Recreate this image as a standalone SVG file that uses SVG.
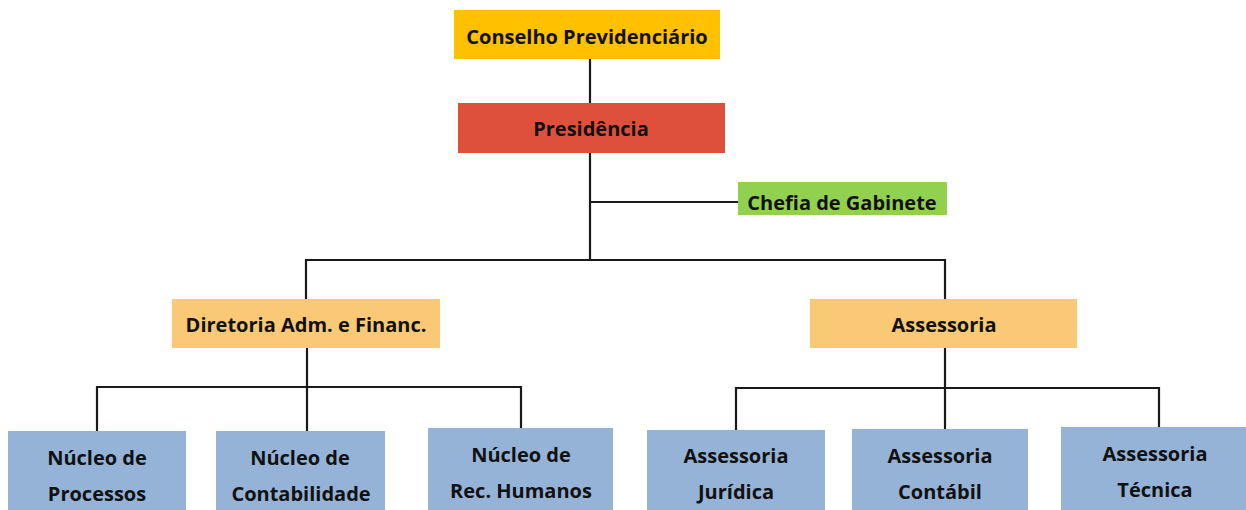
<svg xmlns="http://www.w3.org/2000/svg" width="1246" height="510" viewBox="0 0 1246 510">
<style>
text{font-family:"Open Sans",Lato,"Liberation Sans",sans-serif;font-weight:bold;font-size:20px;fill:#111;text-anchor:middle;dominant-baseline:central}
.c{stroke:#1a1a1a;stroke-width:2.2;fill:none}
.blue{fill:#95B3D7}
.org{fill:#F9C976}
</style>
<rect width="1246" height="510" fill="#fff"/>
<g id="connectors">
<path class="c" d="M590 59V103M590 153V260M590 202H738M306 299V260H945V299M307 348V431M97 431V387H521V428M945 348V430M736 430V388H1159V427"/>
</g>
<g id="conselho"><rect x="454" y="10" width="266" height="49" fill="#FFC000"/><text x="587" y="36">Conselho Previdenciário</text></g>
<g id="presidencia"><rect x="458" y="103" width="267" height="50" fill="#DE503C"/><text x="591" y="128">Presidência</text></g>
<g id="chefia"><rect x="738" y="182" width="209" height="33" fill="#92D050"/><text x="842" y="202">Chefia de Gabinete</text></g>
<g id="diretoria"><rect class="org" x="172" y="299" width="268" height="49"/><text x="306" y="324">Diretoria Adm. e Financ.</text></g>
<g id="assessoria"><rect class="org" x="810" y="299" width="267" height="49"/><text x="944" y="324">Assessoria</text></g>
<g id="nucleo-processos"><rect class="blue" x="8" y="431" width="178" height="85"/><text x="97" y="457">Núcleo de</text><text x="97" y="493">Processos</text></g>
<g id="nucleo-contabilidade"><rect class="blue" x="216" y="431" width="169" height="85"/><text x="300" y="457">Núcleo de</text><text x="301" y="493">Contabilidade</text></g>
<g id="nucleo-rh"><rect class="blue" x="428" y="428" width="185" height="85"/><text x="521" y="454">Núcleo de</text><text x="521" y="490">Rec. Humanos</text></g>
<g id="assessoria-juridica"><rect class="blue" x="647" y="430" width="178" height="85"/><text x="736" y="455">Assessoria</text><text x="736" y="491">Jurídica</text></g>
<g id="assessoria-contabil"><rect class="blue" x="852" y="429" width="176" height="85"/><text x="940" y="455">Assessoria</text><text x="940" y="491">Contábil</text></g>
<g id="assessoria-tecnica"><rect class="blue" x="1061" y="427" width="185" height="85"/><text x="1155" y="453">Assessoria</text><text x="1155" y="489">Técnica</text></g>
</svg>
